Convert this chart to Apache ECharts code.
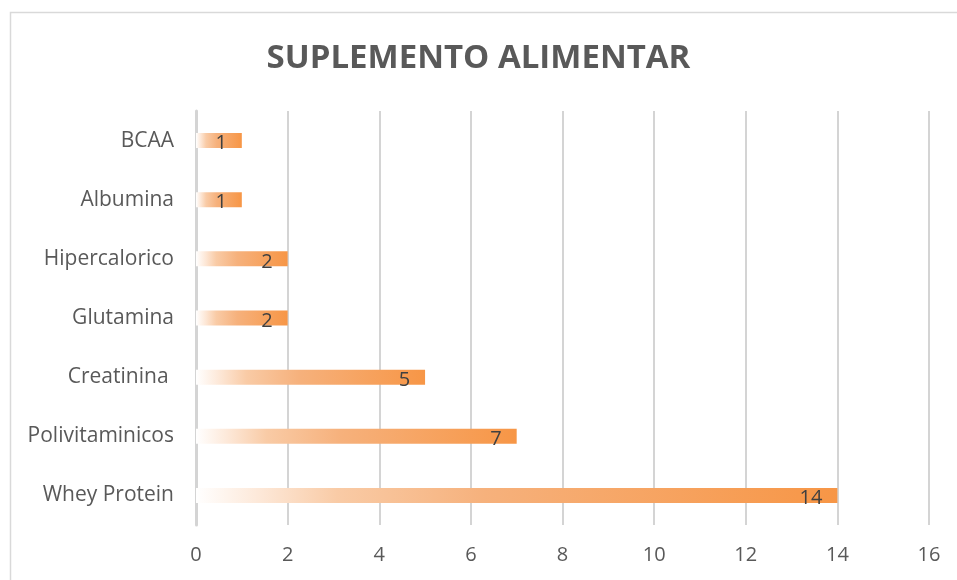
<!DOCTYPE html>
<html>
<head>
<meta charset="utf-8">
<script src="https://cdn.jsdelivr.net/npm/echarts@6/dist/echarts.min.js"></script>
<style>
html, body { margin: 0; padding: 0; background: #fff; }
#chart { width: 957px; height: 580px; }
</style>
</head>
<body>
<div id="chart"></div>
<script>
// dados
var categories = ['Whey Protein', 'Polivitaminicos', 'Creatinina ', 'Glutamina', 'Hipercalorico', 'Albumina', 'BCAA']
var values = [14, 7, 5, 2, 2, 1, 1]
var xTicks = [0, 16, 2] // min, max, interval

var chart = echarts.init(document.getElementById('chart'))
chart.setOption({
  animation: false,
  textStyle: { fontFamily: 'Open Sans' },
  title: {
    text: 'SUPLEMENTO ALIMENTAR',
    left: 'center',
    top: 37,
    textStyle: {
      color: '#595959',
      fontSize: 33,
      fontWeight: 'bold',
      fontFamily: 'Open Sans'
    }
  },
  graphic: [{
    type: 'rect',
    shape: { x: 10.5, y: 12.5, width: 1000, height: 1000 },
    style: { fill: 'none', stroke: '#d9d9d9', lineWidth: 1.5 },
    silent: true
  }],
  grid: { left: 196, right: 28, top: 111, bottom: 55 },
  xAxis: {
    type: 'value',
    min: xTicks[0],
    max: xTicks[1],
    interval: xTicks[2],
    axisLine: { show: false },
    axisTick: { show: false },
    axisLabel: { color: '#595959', fontSize: 20, margin: 20 },
    splitLine: { lineStyle: { color: '#d4d4d4', width: 2 } }
  },
  yAxis: {
    type: 'category',
    data: categories,
    axisLine: { show: true, lineStyle: { color: '#d4d4d4', width: 3 } },
    axisTick: { show: false },
    axisLabel: { color: '#595959', fontSize: 21, margin: 22, padding: [4, 0, 0, 0] }
  },
  series: [{
    type: 'bar',
    data: values,
    barWidth: 15,
    itemStyle: {
      color: new echarts.graphic.LinearGradient(0, 0, 1, 0, [
        { offset: 0, color: '#ffffff' },
        { offset: 0.1, color: '#fde8d8' },
        { offset: 0.22, color: '#f9cba6' },
        { offset: 0.45, color: '#f6b17c' },
        { offset: 1, color: '#f79646' }
      ])
    },
    label: {
      show: true,
      position: 'insideRight',
      distance: 15,
      offset: [0, 3],
      color: '#404040',
      fontSize: 20
    }
  }]
})
</script>
</body>
</html>
